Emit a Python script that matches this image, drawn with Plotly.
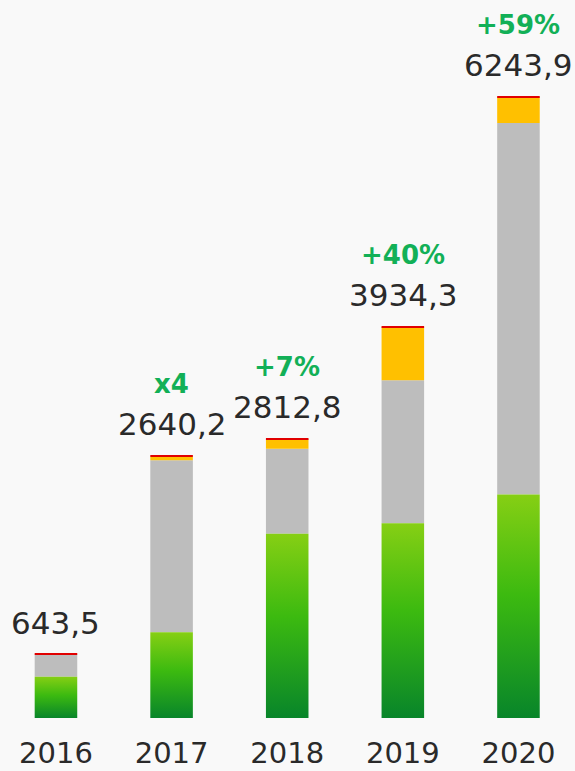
import plotly.graph_objects as go

years = ["2016", "2017", "2018", "2019", "2020"]
totals = [643.5, 2640.2, 2812.8, 3934.3, 6243.9]
total_labels = ["643,5", "2640,2", "2812,8", "3934,3", "6243,9"]
growth_labels = ["", "x4", "+7%", "+40%", "+59%"]

green_part = [415, 860, 1850, 1955, 2244]
gray_part = [225, 1728, 853, 1436, 3732]
yellow_part = [0, 36, 97, 533, 258]
red_part = [3.5, 16, 13, 10, 10]

BG = "#f9f9f9"
GRAY = "#bdbdbd"
YELLOW = "#ffc000"
RED = "#e10000"
TEXT = "#2a2a2a"
GREEN_TEXT = "#12b057"
BAR_WIDTH = 0.368
FONT = "DejaVu Sans"

idx = list(range(len(years)))
fig = go.Figure()

# green segments: one polygon per bar so every bar gets its own gradient
for i, g in zip(idx, green_part):
    half = BAR_WIDTH / 2
    fig.add_trace(
        go.Scatter(
            x=[i - half, i + half, i + half, i - half, i - half],
            y=[0, 0, g, g, 0],
            mode="lines",
            line={"width": 0},
            fill="toself",
            fillgradient={
                "type": "vertical",
                "colorscale": [[0, "#08852a"], [0.55, "#3cba10"], [1, "#86cf14"]],
            },
            hoverinfo="skip",
            showlegend=False,
        )
    )

base_gray = green_part
base_yellow = [a + b for a, b in zip(green_part, gray_part)]
base_red = [a + b for a, b in zip(base_yellow, yellow_part)]

for values, base, color in [
    (gray_part, base_gray, GRAY),
    (yellow_part, base_yellow, YELLOW),
    (red_part, base_red, RED),
]:
    fig.add_trace(
        go.Bar(
            x=idx,
            y=values,
            base=base,
            width=BAR_WIDTH,
            marker={"color": color, "line": {"width": 0}},
            showlegend=False,
            hoverinfo="skip",
        )
    )

for i, total, label, growth in zip(idx, totals, total_labels, growth_labels):
    fig.add_annotation(
        x=i, y=total, text=label, showarrow=False, yanchor="middle", yshift=31,
        font={"family": FONT, "size": 31, "color": TEXT},
    )
    if growth:
        fig.add_annotation(
            x=i, y=total, text=growth, showarrow=False, yanchor="middle", yshift=71,
            font={"family": FONT, "size": 26, "color": GREEN_TEXT, "weight": "bold"},
        )

fig.update_layout(
    width=575,
    height=771,
    margin={"l": 0, "r": 0, "t": 0, "b": 53},
    paper_bgcolor=BG,
    plot_bgcolor=BG,
    barmode="overlay",
    showlegend=False,
)
fig.update_xaxes(
    range=[-0.484, 4.489],
    tickvals=idx,
    ticktext=years,
    showgrid=False,
    zeroline=False,
    showline=False,
    ticks="",
    automargin=False,
    ticklabelstandoff=15,
    tickfont={"family": FONT, "size": 29, "color": TEXT},
)
fig.update_yaxes(range=[0, 7211], visible=False, showgrid=False, zeroline=False)

fig.write_html(
    "out.html",
    config={"displayModeBar": False},
    post_script="document.body.style.margin='0';document.body.style.background='#f9f9f9';",
)
